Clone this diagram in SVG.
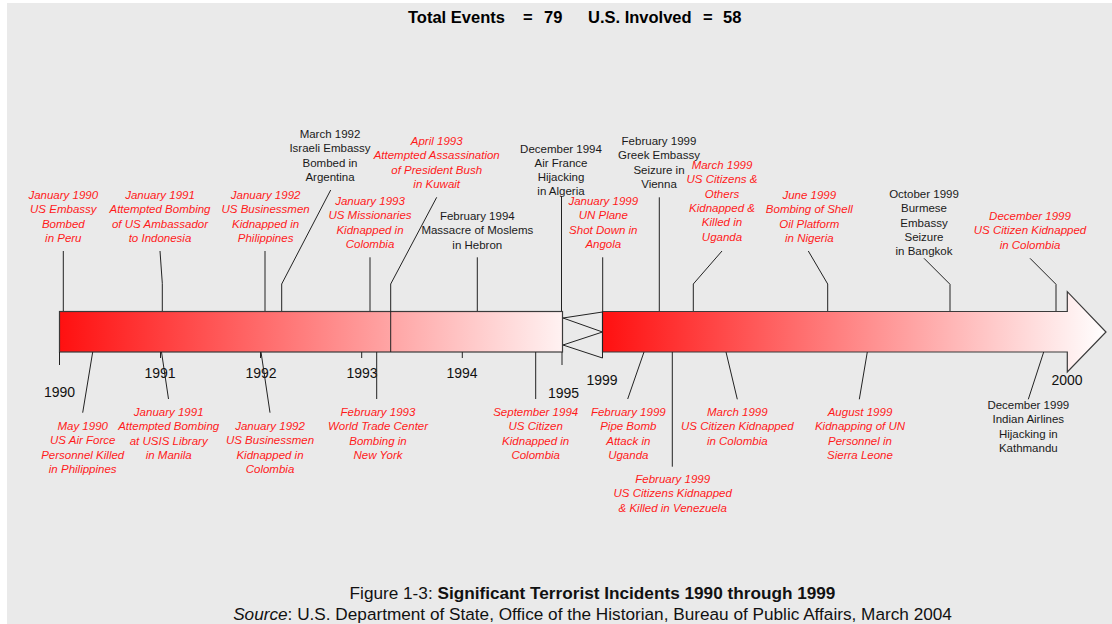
<svg xmlns="http://www.w3.org/2000/svg" width="1112" height="624" viewBox="0 0 1112 624">
<defs>
<style>
.bg{fill:#EAEAEA}
.lbl{font-family:"Liberation Sans",Arial,sans-serif;font-size:11.5px;text-anchor:middle}
.r{fill:#FF1A1A;font-style:italic}
.k{fill:#1A1A1A}
.yr{font-family:"Liberation Sans",Arial,sans-serif;font-size:14px;fill:#111;text-anchor:middle}
.ttl{font-family:"Liberation Sans",Arial,sans-serif;font-size:16.5px;font-weight:bold;fill:#000}
.cap{font-family:"Liberation Sans",Arial,sans-serif;font-size:17.2px;fill:#111;text-anchor:middle}
.ln{fill:none;stroke:#222;stroke-width:1}
.bar{stroke:#3A3A3A;stroke-width:1.2}
</style>
<linearGradient id="g1" x1="59" y1="0" x2="563" y2="0" gradientUnits="userSpaceOnUse">
<stop offset="0" stop-color="#FF1010"/>
<stop offset="1" stop-color="#FFF2F2"/>
</linearGradient>
<linearGradient id="g2" x1="602" y1="0" x2="1106" y2="0" gradientUnits="userSpaceOnUse">
<stop offset="0" stop-color="#FF1010"/>
<stop offset="1" stop-color="#FFFFFF"/>
</linearGradient>
</defs>
<rect class="bg" x="7" y="3" width="1105" height="621"/>

<text class="ttl" y="23"><tspan x="408">Total Events</tspan><tspan x="523">=</tspan><tspan x="544">79</tspan><tspan x="588">U.S. Involved</tspan><tspan x="703">=</tspan><tspan x="723">58</tspan></text>

<g id="timeline-bar">
<rect class="bar" x="59.5" y="311.5" width="503" height="40.5" fill="url(#g1)"/>
<path class="bar" d="M602.5,311.5 H1067.3 V291.7 L1106,332 L1067.3,372 V352 H602.5 Z" fill="url(#g2)"/>
<path class="ln" d="M563,318 L602.5,312 M563,318 L602.5,332 M563,345 L602.5,332 M563,345 L602.5,358 M602.5,311.5 V358"/>
<path class="ln" d="M390.7,311 V352"/>
</g>

<g id="year-ticks">
<path class="ln" d="M59.5,352 V365 M160.5,352 V358 M260.5,352 V358 M361.7,352 V358 M462.3,352 V358 M562,352 V365"/>
<text class="yr" x="59.5" y="397">1990</text>
<text class="yr" x="160" y="378">1991</text>
<text class="yr" x="261" y="378">1992</text>
<text class="yr" x="362" y="378">1993</text>
<text class="yr" x="462" y="378">1994</text>
<text class="yr" x="563.5" y="398">1995</text>
<text class="yr" x="602" y="385">1999</text>
<text class="yr" x="1067" y="385">2000</text>
</g>

<g id="connectors">
<path class="ln" d="M63.3,251 V311"/>
<path class="ln" d="M160,251 L162.3,283.3 V311"/>
<path class="ln" d="M265,251 V311"/>
<path class="ln" d="M330.7,190 L281.7,284 V311"/>
<path class="ln" d="M436.7,197.3 L390.7,284 V311"/>
<path class="ln" d="M370,257.3 V311"/>
<path class="ln" d="M477.3,257.3 V311"/>
<path class="ln" d="M561.5,196 V311"/>
<path class="ln" d="M602.7,257.3 V311"/>
<path class="ln" d="M659.3,197.3 V311"/>
<path class="ln" d="M722,251 L693.3,284 V311"/>
<path class="ln" d="M808.3,251 L827.7,284 V311"/>
<path class="ln" d="M924,258.3 L950,284.3 V311"/>
<path class="ln" d="M1030,258.3 L1056,284.3 V311"/>
<path class="ln" d="M92.7,352 L82.7,412.7"/>
<path class="ln" d="M161.5,352 L168.5,399"/>
<path class="ln" d="M261,352 L270,412.7"/>
<path class="ln" d="M376.7,352 V399"/>
<path class="ln" d="M535.7,352 V399"/>
<path class="ln" d="M644,352 L627.7,399"/>
<path class="ln" d="M672.3,352 V466.7"/>
<path class="ln" d="M726,352 L737.3,399.3"/>
<path class="ln" d="M867.3,352 L859.3,399.3"/>
<path class="ln" d="M1043.7,352 L1028.3,399.3"/>
</g>

<g id="ev-jan1990"><text class="lbl r" x="63.3" y="199"><tspan x="63.3">January 1990</tspan><tspan x="63.3" dy="14.3">US Embassy</tspan><tspan x="63.3" dy="14.3">Bombed</tspan><tspan x="63.3" dy="14.3">in Peru</tspan></text></g>
<g id="ev-jan1991a"><text class="lbl r" x="160" y="199"><tspan x="160">January 1991</tspan><tspan x="160" dy="14.3">Attempted Bombing</tspan><tspan x="160" dy="14.3">of US Ambassador</tspan><tspan x="160" dy="14.3">to Indonesia</tspan></text></g>
<g id="ev-jan1992a"><text class="lbl r" x="265.6" y="199"><tspan x="265.6">January 1992</tspan><tspan x="265.6" dy="14.3">US Businessmen</tspan><tspan x="265.6" dy="14.3">Kidnapped in</tspan><tspan x="265.6" dy="14.3">Philippines</tspan></text></g>
<g id="ev-mar1992"><text class="lbl k" x="330" y="138"><tspan x="330">March 1992</tspan><tspan x="330" dy="14.3">Israeli Embassy</tspan><tspan x="330" dy="14.3">Bombed in</tspan><tspan x="330" dy="14.3">Argentina</tspan></text></g>
<g id="ev-apr1993"><text class="lbl r" x="436.7" y="145"><tspan x="436.7">April 1993</tspan><tspan x="436.7" dy="14.3">Attempted Assassination</tspan><tspan x="436.7" dy="14.3">of President Bush</tspan><tspan x="436.7" dy="14.3">in Kuwait</tspan></text></g>
<g id="ev-jan1993"><text class="lbl r" x="370" y="205"><tspan x="370">January 1993</tspan><tspan x="370" dy="14.3">US Missionaries</tspan><tspan x="370" dy="14.3">Kidnapped in</tspan><tspan x="370" dy="14.3">Colombia</tspan></text></g>
<g id="ev-feb1994"><text class="lbl k" x="477.3" y="220"><tspan x="477.3">February 1994</tspan><tspan x="477.3" dy="14.3">Massacre of Moslems</tspan><tspan x="477.3" dy="14.3">in Hebron</tspan></text></g>
<g id="ev-dec1994"><text class="lbl k" x="561" y="152.5"><tspan x="561">December 1994</tspan><tspan x="561" dy="14.3">Air France</tspan><tspan x="561" dy="14.3">Hijacking</tspan><tspan x="561" dy="14.3">in Algeria</tspan></text></g>
<g id="ev-jan1999"><text class="lbl r" x="603.3" y="205"><tspan x="603.3">January 1999</tspan><tspan x="603.3" dy="14.3">UN Plane</tspan><tspan x="603.3" dy="14.3">Shot Down in</tspan><tspan x="603.3" dy="14.3">Angola</tspan></text></g>
<g id="ev-feb1999a"><text class="lbl k" x="659" y="145"><tspan x="659">February 1999</tspan><tspan x="659" dy="14.3">Greek Embassy</tspan><tspan x="659" dy="14.3">Seizure in</tspan><tspan x="659" dy="14.3">Vienna</tspan></text></g>
<g id="ev-mar1999a"><text class="lbl r" x="722" y="169"><tspan x="722">March 1999</tspan><tspan x="722" dy="14.3">US Citizens &amp;</tspan><tspan x="722" dy="14.3">Others</tspan><tspan x="722" dy="14.3">Kidnapped &amp;</tspan><tspan x="722" dy="14.3">Killed in</tspan><tspan x="722" dy="14.3">Uganda</tspan></text></g>
<g id="ev-jun1999"><text class="lbl r" x="809.3" y="199"><tspan x="809.3">June 1999</tspan><tspan x="809.3" dy="14.3">Bombing of Shell</tspan><tspan x="809.3" dy="14.3">Oil Platform</tspan><tspan x="809.3" dy="14.3">in Nigeria</tspan></text></g>
<g id="ev-oct1999"><text class="lbl k" x="924" y="198"><tspan x="924">October 1999</tspan><tspan x="924" dy="14.3">Burmese</tspan><tspan x="924" dy="14.3">Embassy</tspan><tspan x="924" dy="14.3">Seizure</tspan><tspan x="924" dy="14.3">in Bangkok</tspan></text></g>
<g id="ev-dec1999a"><text class="lbl r" x="1030" y="220"><tspan x="1030">December 1999</tspan><tspan x="1030" dy="14.3">US Citizen Kidnapped</tspan><tspan x="1030" dy="14.3">in Colombia</tspan></text></g>

<g id="ev-may1990"><text class="lbl r" x="82.7" y="430"><tspan x="82.7">May 1990</tspan><tspan x="82.7" dy="14.3">US Air Force</tspan><tspan x="82.7" dy="14.3">Personnel Killed</tspan><tspan x="82.7" dy="14.3">in Philippines</tspan></text></g>
<g id="ev-jan1991b"><text class="lbl r" x="168.7" y="416"><tspan x="168.7">January 1991</tspan><tspan x="168.7" dy="14.3">Attempted Bombing</tspan><tspan x="168.7" dy="14.3">at USIS Library</tspan><tspan x="168.7" dy="14.3">in Manila</tspan></text></g>
<g id="ev-jan1992b"><text class="lbl r" x="270" y="430"><tspan x="270">January 1992</tspan><tspan x="270" dy="14.3">US Businessmen</tspan><tspan x="270" dy="14.3">Kidnapped in</tspan><tspan x="270" dy="14.3">Colombia</tspan></text></g>
<g id="ev-feb1993"><text class="lbl r" x="378" y="416"><tspan x="378">February 1993</tspan><tspan x="378" dy="14.3">World Trade Center</tspan><tspan x="378" dy="14.3">Bombing in</tspan><tspan x="378" dy="14.3">New York</tspan></text></g>
<g id="ev-sep1994"><text class="lbl r" x="535.7" y="416"><tspan x="535.7">September 1994</tspan><tspan x="535.7" dy="14.3">US Citizen</tspan><tspan x="535.7" dy="14.3">Kidnapped in</tspan><tspan x="535.7" dy="14.3">Colombia</tspan></text></g>
<g id="ev-feb1999b"><text class="lbl r" x="628.3" y="416"><tspan x="628.3">February 1999</tspan><tspan x="628.3" dy="14.3">Pipe Bomb</tspan><tspan x="628.3" dy="14.3">Attack in</tspan><tspan x="628.3" dy="14.3">Uganda</tspan></text></g>
<g id="ev-feb1999c"><text class="lbl r" x="672.7" y="483"><tspan x="672.7">February 1999</tspan><tspan x="672.7" dy="14.3">US Citizens Kidnapped</tspan><tspan x="672.7" dy="14.3">&amp; Killed in Venezuela</tspan></text></g>
<g id="ev-mar1999b"><text class="lbl r" x="737.3" y="416"><tspan x="737.3">March 1999</tspan><tspan x="737.3" dy="14.3">US Citizen Kidnapped</tspan><tspan x="737.3" dy="14.3">in Colombia</tspan></text></g>
<g id="ev-aug1999"><text class="lbl r" x="860" y="416"><tspan x="860">August 1999</tspan><tspan x="860" dy="14.3">Kidnapping of UN</tspan><tspan x="860" dy="14.3">Personnel in</tspan><tspan x="860" dy="14.3">Sierra Leone</tspan></text></g>
<g id="ev-dec1999b"><text class="lbl k" x="1028.3" y="409"><tspan x="1028.3">December 1999</tspan><tspan x="1028.3" dy="14.3">Indian Airlines</tspan><tspan x="1028.3" dy="14.3">Hijacking in</tspan><tspan x="1028.3" dy="14.3">Kathmandu</tspan></text></g>

<text class="cap" x="592.5" y="598.5">Figure 1-3: <tspan font-weight="bold">Significant Terrorist Incidents 1990 through 1999</tspan></text>
<text class="cap" x="592.5" y="620"><tspan font-style="italic">Source</tspan>: U.S. Department of State, Office of the Historian, Bureau of Public Affairs, March 2004</text>
</svg>
